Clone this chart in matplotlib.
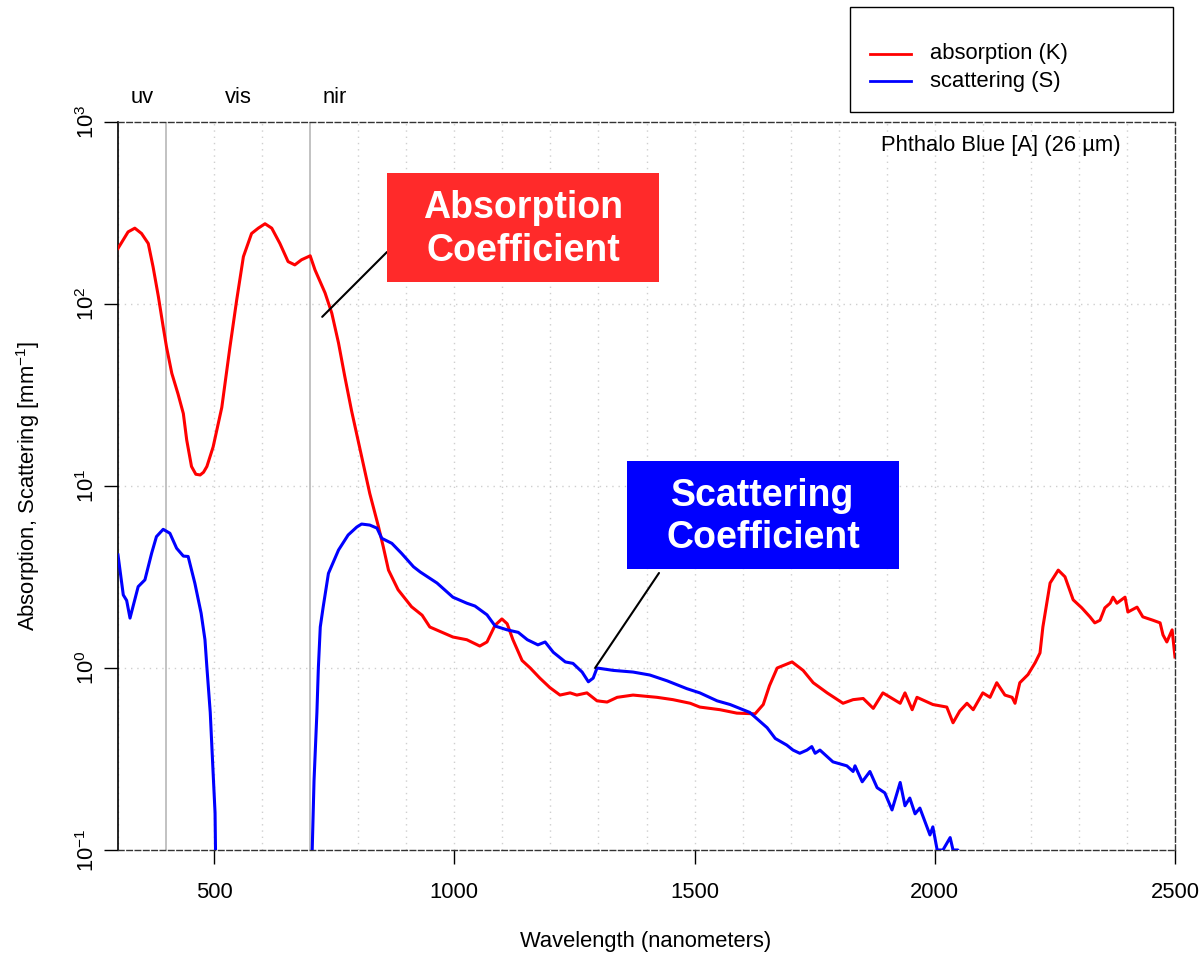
import numpy as np
import matplotlib
matplotlib.use("Agg")
import matplotlib.pyplot as plt
from matplotlib.patches import Rectangle
from matplotlib.lines import Line2D
from matplotlib.transforms import blended_transform_factory

plt.rcParams['font.family'] = ['Liberation Sans', 'DejaVu Sans']
plt.rcParams['mathtext.default'] = 'regular'

# absorption (K)
wl_k = [300, 321, 335, 349, 363, 373, 384, 394, 401, 412, 425, 436, 443, 453, 462, 471, 478, 485, 498, 516,
        533, 547, 561, 578, 592, 606, 620, 637, 654, 668, 682, 700, 710, 731, 745, 759, 772, 786, 804, 824,
        842, 852, 863, 883, 911, 933, 949, 997, 1026, 1053,
        1068, 1085, 1099, 1110, 1122, 1141, 1158, 1178, 1199, 1220,
        1241, 1255, 1276, 1297, 1318, 1339, 1372, 1422, 1455, 1491, 1511, 1553, 1588, 1626, 1643, 1656, 1672,
        1703, 1726, 1747, 1776, 1809, 1830, 1851, 1872, 1892, 1928, 1938, 1953, 1963, 1996, 2025, 2038, 2052,
        2067, 2080, 2100, 2115, 2129, 2146, 2161, 2167, 2177, 2194, 2209, 2219, 2225, 2240, 2257, 2271, 2288,
        2306, 2323, 2333, 2344, 2354, 2365, 2371, 2379, 2396, 2402, 2421, 2433, 2454, 2469, 2475, 2483, 2494, 2500]
k_vals = [202, 249, 261, 244, 215, 160, 110, 75, 58, 41.6, 32, 25, 17.9, 12.8, 11.6, 11.5, 11.9, 12.8, 16.4, 27,
          58, 105, 182, 244, 261, 276, 261, 215, 171, 164, 175, 184, 154, 115, 89, 61, 40, 26, 15.8, 9.1,
          6.0, 4.65, 3.45, 2.69, 2.17, 1.95, 1.68, 1.48, 1.43, 1.32,
          1.39, 1.72, 1.86, 1.75, 1.43, 1.1, 1.0, 0.88, 0.78, 0.71,
          0.73, 0.71, 0.73, 0.66, 0.65, 0.69, 0.71, 0.69, 0.67, 0.64, 0.61, 0.59, 0.565, 0.56, 0.63, 0.8, 1.0,
          1.08, 0.97, 0.83, 0.73, 0.64, 0.67, 0.68, 0.60, 0.73, 0.64, 0.73, 0.59, 0.69, 0.63, 0.61, 0.50, 0.58,
          0.64, 0.59, 0.73, 0.69, 0.83, 0.71, 0.69, 0.64, 0.83, 0.92, 1.07, 1.21, 1.68, 2.93, 3.45, 3.17, 2.37,
          2.14, 1.91, 1.77, 1.83, 2.14, 2.27, 2.45, 2.27, 2.45, 2.03, 2.16, 1.91, 1.83, 1.77, 1.52, 1.39, 1.62, 1.15]

# scattering (S); nan = gap where the values drop to zero / below
wl_s = [300, 311, 318, 325, 342, 356, 370, 380, 394, 408, 422, 436, 446, 460, 473, 481, 485, 492, 497, 502, 504,
        600,
        702, 708, 714, 717, 721, 727, 738, 759, 779, 797, 807, 824, 839, 849, 870, 890, 915, 929, 964, 997,
        1026, 1043, 1068, 1085, 1110, 1133, 1152, 1174, 1189, 1206, 1231, 1247, 1266,
        1279, 1289, 1297, 1331, 1372, 1407, 1443, 1484, 1511, 1547, 1574, 1615, 1651, 1668, 1692, 1705, 1719,
        1734, 1744, 1751, 1761, 1788, 1817, 1830, 1834, 1849, 1865, 1880, 1896, 1911, 1928, 1938, 1948, 1959,
        1969, 1990, 1996, 2005, 2017, 2032, 2038, 2048, 2055]
s_vals = [4.18, 2.52, 2.35, 1.88, 2.8, 3.05, 4.27, 5.27, 5.78, 5.5, 4.55, 4.12, 4.1, 2.92, 2.0, 1.43, 1.01, 0.57, 0.30, 0.16, 0.06,
          np.nan,
          0.06, 0.24, 0.57, 1.0, 1.68, 2.16, 3.31, 4.45, 5.38, 5.95, 6.18, 6.1, 5.87, 5.16, 4.84, 4.27, 3.6, 3.37, 2.93, 2.45,
          2.27, 2.19, 1.96, 1.70, 1.62, 1.57, 1.43, 1.34, 1.39, 1.22, 1.08, 1.06, 0.95,
          0.84, 0.88, 1.0, 0.97, 0.95, 0.915, 0.85, 0.77, 0.73, 0.66, 0.63, 0.57, 0.47, 0.41, 0.377, 0.354, 0.34,
          0.354, 0.37, 0.34, 0.354, 0.305, 0.29, 0.27, 0.29, 0.237, 0.27, 0.22, 0.206, 0.166, 0.235, 0.175, 0.193, 0.158,
          0.17, 0.121, 0.134, 0.10, 0.1, 0.117, 0.1, 0.1, 0.09]

band_edges = [400, 700]
band_names = ["uv", "vis", "nir"]
band_centers = [350, 550, 750]
x_ticks = [500, 1000, 1500, 2000, 2500]
y_ticks = [0.1, 1, 10, 100, 1000]
y_labels = [r"$10^{-1}$", r"$10^{0}$", r"$10^{1}$", r"$10^{2}$", r"$10^{3}$"]

fs = 15.8
fig = plt.figure(figsize=(12.03, 9.56), dpi=100)
ax = fig.add_axes([118/1203, 1-850/956, 1057/1203, 728/956])

# grid
for g in np.arange(300, 2501, 100):
    if g not in band_edges:
        ax.axvline(g, color="#cfcfcf", lw=1, ls=(0, (1, 3.5)), zorder=0)
for g in y_ticks[1:-1]:
    ax.axhline(g, color="#cfcfcf", lw=1, ls=(0, (1, 3.5)), zorder=0)
for b in band_edges:
    ax.axvline(b, color="#bdbdbd", lw=1.3, zorder=1)

lk, = ax.plot(wl_k, k_vals, color="#ff0000", lw=2.2, zorder=3)
ls_, = ax.plot(wl_s, s_vals, color="#0000ff", lw=2.2, zorder=3)

ax.set_yscale("log")
ax.set_xlim(300, 2500)
ax.set_ylim(0.1, 1000)
ax.set_xticks(x_ticks)
ax.set_xticklabels([str(t) for t in x_ticks])
ax.set_yticks(y_ticks)
ax.set_yticklabels(y_labels, rotation=90, va="center")
ax.minorticks_off()
ax.tick_params(axis="both", length=10, width=1, color="black", labelsize=fs)
ax.tick_params(axis="x", pad=13)
ax.tick_params(axis="y", pad=4)

ax.spines["left"].set_linewidth(1.2)
ax.spines["left"].set_color("black")
for s in ["top", "right", "bottom"]:
    ax.spines[s].set_linestyle((0, (4, 2)))
    ax.spines[s].set_color("#333333")
    ax.spines[s].set_linewidth(1)

# band labels above plot
tr = blended_transform_factory(ax.transData, ax.transAxes)
for name, c in zip(band_names, band_centers):
    ax.text(c, 1.034, name, transform=tr, ha="center", va="center", fontsize=fs)

ax.text(0.8354, 0.9684, "Phthalo Blue [A] (26 µm)", transform=ax.transAxes,
        ha="center", va="center", fontsize=fs)

fig.text(646/1203, 1-942/956, "Wavelength (nanometers)", ha="center", va="center", fontsize=fs)
fig.text(28/1203, 1-486/956, r"Absorption, Scattering [mm$^{-1}$]", ha="center", va="center",
         rotation=90, fontsize=fs)

# callout boxes
def callout(x0, y0, w, h, color, label, xy, start):
    fig.patches.append(Rectangle((x0/1203, 1-(y0+h)/956), w/1203, h/956, transform=fig.transFigure,
                                 facecolor=color, edgecolor="none", zorder=5))
    fig.text((x0+w/2)/1203, 1-(y0+h/2+2)/956, label, ha="center", va="center", color="white",
             fontsize=27, fontweight="bold", linespacing=1.25, zorder=6)
    ax.annotate("", xy=xy, xycoords="data", xytext=(start[0]/1203, 1-start[1]/956),
                textcoords="figure fraction",
                arrowprops=dict(arrowstyle="-", lw=1.5, color="black", shrinkA=0, shrinkB=0))

callout(387, 173, 272, 109, "#ff2a2a", "Absorption\nCoefficient", (725, 85), (387, 252))
callout(627, 461, 272, 108, "#0000ff", "Scattering\nCoefficient", (1293, 1.0), (659, 573))

# legend box
fig.patches.append(Rectangle((850/1203, 1-112/956), 323/1203, 105/956, transform=fig.transFigure,
                             facecolor="white", edgecolor="black", lw=1))
for line, label, yy in [(lk, "absorption (K)", 54), (ls_, "scattering (S)", 81)]:
    fig.lines.append(Line2D([870/1203, 911/1203], [1-yy/956, 1-yy/956], transform=fig.transFigure,
                            color=line.get_color(), lw=2))
    fig.text(930/1203, 1-yy/956, label, ha="left", va="center", fontsize=fs)

fig.savefig("out.png", dpi=100)
